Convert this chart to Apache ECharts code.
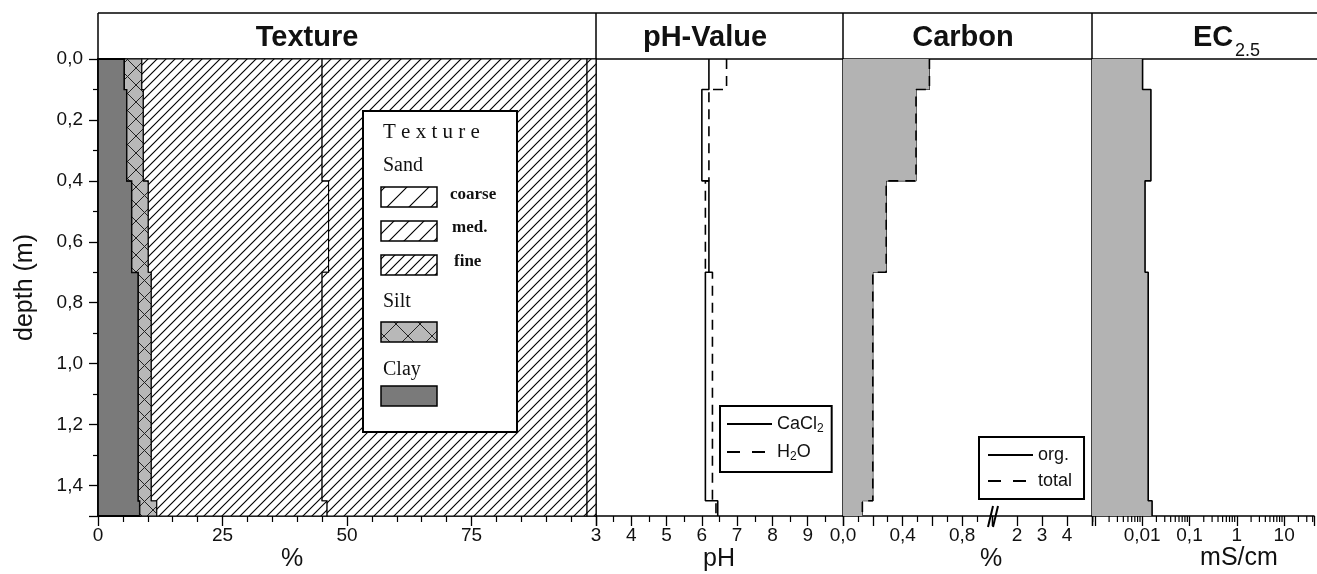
<!DOCTYPE html>
<html>
<head>
<meta charset="utf-8">
<title>Soil profile</title>
<script src="https://cdn.jsdelivr.net/npm/echarts@6.0.0/dist/echarts.min.js"></script>
<style>
html, body { margin: 0; padding: 0; background: #fff; }
#chart { width: 1317px; height: 574px; }
</style>
</head>
<body>
<div id="chart"></div>
<script>
// Depth boundaries of the sampled horizons (m)
const depthBreaks = [0, 0.1, 0.4, 0.7, 1.45, 1.5];

// Texture fractions per horizon (%)
const clay       = [5.3, 5.8, 6.8, 8.1, 8.4];
const silt       = [3.5, 3.3, 3.3, 2.6, 3.4];
const sandFine   = [36.2, 35.9, 36.2, 34.3, 34.2];
const sandMedium = [53.2, 53.2, 51.9, 53.2, 52.2];
const sandCoarse = [1.8, 1.8, 1.8, 1.8, 1.8];

// pH per horizon
const phCaCl2 = [6.2, 6.0, 6.2, 6.1, 6.45];
const phH2O   = [6.7, 6.2, 6.1, 6.3, 6.4];

// Carbon per horizon (%)
const carbonOrg   = [0.58, 0.49, 0.29, 0.2, 0.13];
const carbonTotal = [0.58, 0.49, 0.29, 0.2, 0.13];

// Electrical conductivity EC2.5 per horizon (mS/cm)
const ec = [0.0102, 0.0153, 0.0115, 0.0134, 0.0162];

// Labelled tick values
const depthLabels     = [0, 0.2, 0.4, 0.6, 0.8, 1.0, 1.2, 1.4];
const textureLabels   = [0, 25, 50, 75];
const phLabels        = [3, 4, 5, 6, 7, 8, 9];
const carbonLowLabels = [0, 0.4, 0.8];
const carbonHiLabels  = [2, 3, 4];
const ecLabels        = [0.01, 0.1, 1, 10];
const ecMinorFactors  = [2, 3, 4, 5, 6, 7, 8, 9];
const ecDecades       = [-4, -3, -2, -1, 0, 1];

const BLACK = '#000';
const INK = '#111';
const FONT = "'Liberation Sans', Arial, sans-serif";
const SERIF = "'Liberation Serif', 'Times New Roman', serif";
const FILL_GRAY = '#b3b3b3';
const CLAY_GRAY = '#7a7a7a';

const PLOT_TOP = 59, PLOT_H = 457, HEADER_TOP = 13, RIGHT = 1317;
const panels = [
  { left: 98,   width: 498 },  // texture
  { left: 596,  width: 247 },  // pH
  { left: 843,  width: 149 },  // carbon 0–1 %
  { left: 992,  width: 100 },  // carbon 1–5 %
  { left: 1092, width: 225 }   // EC
];
const EC_MIN = Math.pow(10, -3.06), EC_MAX = Math.pow(10, 1.63);

function hatchPattern(size, opts) {
  const c = document.createElement('canvas');
  c.width = c.height = size;
  const g = c.getContext('2d');
  g.fillStyle = opts.bg || '#fff';
  g.fillRect(0, 0, size, size);
  g.strokeStyle = opts.color || '#000';
  g.lineWidth = opts.width || 1.15;
  g.beginPath();
  for (const o of [-size, 0, size]) { g.moveTo(o - 1, size + 1); g.lineTo(o + size + 1, -1); }
  if (opts.cross) for (const o of [-size, 0, size]) { g.moveTo(o - 1, -1); g.lineTo(o + size + 1, size + 1); }
  g.stroke();
  return { image: c, repeat: 'repeat' };
}

const texLayers = [
  { vals: clay,       fill: CLAY_GRAY },
  { vals: silt,       fill: hatchPattern(17, { bg: '#b8b8b8', cross: true, color: '#222', width: 1 }) },
  { vals: sandFine,   fill: hatchPattern(9,  {}) },
  { vals: sandMedium, fill: hatchPattern(10, {}) },
  { vals: sandCoarse, fill: hatchPattern(10, {}) }
];
// cumulative left/right edges of each texture band
const texEdges = [];
(function () {
  let run = depthBreaks.slice(1).map(() => 0);
  texLayers.forEach(l => {
    const lo = run.slice();
    run = run.map((v, i) => v + l.vals[i]);
    texEdges.push({ lo, hi: run.slice() });
  });
})();

function steps(vals) {
  const pts = [];
  vals.forEach((v, i) => { pts.push([v, depthBreaks[i]]); pts.push([v, depthBreaks[i + 1]]); });
  return pts;
}

function textureRender(params, api) {
  const k = params.dataIndex, e = texEdges[k], n = e.hi.length, pts = [];
  for (let i = 0; i < n; i++) {
    pts.push(api.coord([e.hi[i], depthBreaks[i]]));
    pts.push(api.coord([e.hi[i], depthBreaks[i + 1]]));
  }
  for (let i = n - 1; i >= 0; i--) {
    pts.push(api.coord([e.lo[i], depthBreaks[i + 1]]));
    pts.push(api.coord([e.lo[i], depthBreaks[i]]));
  }
  return { type: 'polygon', shape: { points: pts },
    style: { fill: texLayers[k].fill, stroke: BLACK, lineWidth: k === 0 ? 1.8 : 1.1 } };
}

function stepFillRender(vals, base) {
  return function (params, api) {
    const pts = [api.coord([base, 0])];
    vals.forEach((v, i) => { pts.push(api.coord([v, depthBreaks[i]])); pts.push(api.coord([v, depthBreaks[i + 1]])); });
    pts.push(api.coord([base, depthBreaks[depthBreaks.length - 1]]));
    return { type: 'polygon', shape: { points: pts }, style: { fill: FILL_GRAY } };
  };
}

const near = (a, b) => Math.abs(a - b) <= 1e-6 * Math.max(1, Math.abs(b));
const pick = (list, fmt) => v => { const t = list.find(x => near(v, x)); return t === undefined ? '' : fmt(t); };
const comma = d => t => t.toFixed(d).replace('.', ',');
const plain = t => String(t).replace('.', ',');

const labelStyle = { color: INK, fontFamily: FONT, fontSize: 19, margin: 10 };

function xAxis(i, extra) {
  return Object.assign({
    type: 'value', gridIndex: i, position: 'bottom',
    axisLine: { show: true, onZero: false, lineStyle: { color: BLACK, width: 1.5 } },
    axisTick: { show: true, length: 10, lineStyle: { color: BLACK, width: 1.3 } },
    minorTick: { show: false },
    splitLine: { show: false }, minorSplitLine: { show: false }
  }, extra);
}
function yAxis(i) {
  const main = i === 0;
  return {
    type: 'value', gridIndex: i, min: 0, max: 1.5, inverse: true, interval: 0.2,
    axisLine: { show: i !== 3, onZero: false, lineStyle: { color: BLACK, width: 1.5 } },
    axisTick: { show: main, length: 9, lineStyle: { color: BLACK, width: 1.3 } },
    minorTick: { show: main, splitNumber: 2, length: 5, lineStyle: { color: BLACK, width: 1.2 } },
    axisLabel: Object.assign({ show: main, formatter: pick(depthLabels, comma(1)) }, labelStyle, { margin: 15 }),
    splitLine: { show: false },
    name: main ? 'depth (m)' : '', nameLocation: 'middle', nameRotate: 90, nameGap: 60,
    nameTextStyle: { fontFamily: FONT, fontSize: 25, color: INK }
  };
}

const lineBase = { type: 'line', symbol: 'none', showSymbol: false, animation: false };
const solid = { color: BLACK, width: 1.6 };
const dashed = { color: BLACK, width: 1.6, type: [10, 7] };
const legendDash = { color: BLACK, width: 2, type: [13, 12] };

const legendText = {
  fontFamily: FONT, fontSize: 18, color: INK,
  rich: { sub: { fontFamily: FONT, fontSize: 12, color: INK, padding: [10, 0, 0, 0] } }
};
const legendBase = {
  orient: 'vertical', itemWidth: 45, itemHeight: 14, itemGap: 8,
  borderColor: BLACK, borderWidth: 2, backgroundColor: '#fff', borderRadius: 0,
  selectedMode: false, textStyle: legendText, z: 20,
  itemStyle: { color: 'rgba(0,0,0,0)', borderColor: 'rgba(0,0,0,0)', borderWidth: 0, opacity: 0 }
};

// legend entries inside the texture panel
const legendFills = {
  coarse: hatchPattern(22, {}),
  med: hatchPattern(15, {}),
  fine: hatchPattern(10, {}),
  silt: hatchPattern(24, { bg: '#b8b8b8', cross: true, color: '#222', width: 1 })
};
function txt(text, x, y, font, extra) {
  return { type: 'text', x, y, z: 30, silent: true,
    style: Object.assign({ text, font, fill: INK, align: 'left', verticalAlign: 'middle' }, extra || {}) };
}
function swatch(y, fill) {
  return { type: 'rect', z: 30, silent: true, shape: { x: 381, y, width: 56, height: 20 },
    style: { fill, stroke: BLACK, lineWidth: 1.5 } };
}
const textureLegend = [
  { type: 'rect', z: 29, silent: true, shape: { x: 363, y: 111, width: 154, height: 321 },
    style: { fill: '#fff', stroke: BLACK, lineWidth: 2 } },
  txt('T e x t u r e', 383, 132, '21px ' + SERIF),
  txt('Sand', 383, 166, '20px ' + SERIF),
  swatch(187, legendFills.coarse), txt('coarse', 450, 195, 'bold 17px ' + SERIF),
  swatch(221, legendFills.med),    txt('med.', 452, 228, 'bold 17px ' + SERIF),
  swatch(255, legendFills.fine),   txt('fine', 454, 262, 'bold 17px ' + SERIF),
  txt('Silt', 383, 302, '20px ' + SERIF),
  swatch(322, legendFills.silt),
  txt('Clay', 383, 370, '20px ' + SERIF),
  swatch(386, CLAY_GRAY)
];

const headerGraphics = [
  { type: 'line', shape: { x1: panels[0].left, y1: HEADER_TOP, x2: RIGHT, y2: HEADER_TOP }, style: { stroke: BLACK, lineWidth: 1.5 } },
  { type: 'line', shape: { x1: panels[0].left, y1: PLOT_TOP, x2: RIGHT, y2: PLOT_TOP }, style: { stroke: BLACK, lineWidth: 1.5 } }
].concat([0, 1, 2, 4].map(i => ({ type: 'line',
  shape: { x1: panels[i].left, y1: HEADER_TOP, x2: panels[i].left, y2: PLOT_TOP }, style: { stroke: BLACK, lineWidth: 1.5 } })));

const TITLE_FONT = 'bold 29px ' + FONT;
const titles = [
  txt('Texture', 307, 38, TITLE_FONT, { align: 'center' }),
  txt('pH-Value', 705, 38, TITLE_FONT, { align: 'center' }),
  txt('Carbon', 963, 38, TITLE_FONT, { align: 'center' }),
  txt('EC', 1193, 38, TITLE_FONT),
  txt('2.5', 1235, 51, '18px ' + FONT)
];
const NAME_FONT = '25px ' + FONT;
const axisNames = [
  txt('%', 292, 559, NAME_FONT, { align: 'center' }),
  txt('pH', 719, 559, NAME_FONT, { align: 'center' }),
  txt('%', 991, 559, NAME_FONT, { align: 'center' }),
  txt('mS/cm', 1239, 558, NAME_FONT, { align: 'center' })
];

// minor ticks of the logarithmic EC axis
const ecMinor = [];
ecDecades.forEach(d => ecMinorFactors.forEach(f => {
  const v = f * Math.pow(10, d);
  if (v > EC_MIN && v < EC_MAX) ecMinor.push([v, 1.5]);
}));

const option = {
  animation: false,
  backgroundColor: '#fff',
  grid: panels.map(p => ({ left: p.left, width: p.width, top: PLOT_TOP, height: PLOT_H, containLabel: false })),
  xAxis: [
    xAxis(0, { min: 0, max: 100, interval: 25,
      minorTick: { show: true, splitNumber: 5, length: 6, lineStyle: { color: BLACK, width: 1.2 } },
      axisLabel: Object.assign({ formatter: pick(textureLabels, plain) }, labelStyle) }),
    xAxis(1, { min: 3, max: 10, interval: 1,
      minorTick: { show: true, splitNumber: 2, length: 6, lineStyle: { color: BLACK, width: 1.2 } },
      axisLabel: Object.assign({ formatter: pick(phLabels, plain) }, labelStyle) }),
    xAxis(2, { min: 0, max: 1, interval: 0.2,
      minorTick: { show: true, splitNumber: 2, length: 6, lineStyle: { color: BLACK, width: 1.2 } },
      axisLabel: Object.assign({ formatter: pick(carbonLowLabels, comma(1)) }, labelStyle) }),
    xAxis(3, { min: 1, max: 5, interval: 1,
      axisLabel: Object.assign({ formatter: pick(carbonHiLabels, plain) }, labelStyle) }),
    xAxis(4, { type: 'log', logBase: 10, min: EC_MIN, max: EC_MAX,
      axisLabel: Object.assign({ formatter: pick(ecLabels, plain) }, labelStyle) })
  ],
  yAxis: panels.map((p, i) => yAxis(i)),
  legend: [
    Object.assign({}, legendBase, { left: 720, top: 406, padding: [9, 8, 9, 6],
      data: ['CaCl2', { name: 'H2O', lineStyle: legendDash }],
      formatter: n => n === 'CaCl2' ? 'CaCl{sub|2}' : 'H{sub|2}O' }),
    Object.assign({}, legendBase, { left: 979, top: 437, padding: [9, 12, 9, 8],
      data: ['org.', { name: 'total', lineStyle: legendDash }] })
  ],
  graphic: { elements: headerGraphics.concat(titles, axisNames, textureLegend) },
  series: [
    { type: 'custom', name: 'texture', xAxisIndex: 0, yAxisIndex: 0, silent: true, z: 2,
      data: texLayers.map((l, i) => [i, 0]), renderItem: textureRender },
    Object.assign({}, lineBase, { name: 'CaCl2', xAxisIndex: 1, yAxisIndex: 1, z: 3,
      data: steps(phCaCl2), lineStyle: solid, itemStyle: { color: BLACK } }),
    Object.assign({}, lineBase, { name: 'H2O', xAxisIndex: 1, yAxisIndex: 1, z: 3,
      data: steps(phH2O), lineStyle: dashed, itemStyle: { color: BLACK } }),
    Object.assign({}, lineBase, { name: 'org.', xAxisIndex: 2, yAxisIndex: 2, z: 1,
      data: steps(carbonOrg), lineStyle: { color: BLACK, width: 1.2 }, itemStyle: { color: BLACK } }),
    { type: 'custom', name: 'carbon fill', xAxisIndex: 2, yAxisIndex: 2, silent: true, z: 2,
      data: [[0, 0]], renderItem: stepFillRender(carbonOrg, 0) },
    Object.assign({}, lineBase, { name: 'total', xAxisIndex: 2, yAxisIndex: 2, z: 3,
      data: steps(carbonTotal), lineStyle: dashed, itemStyle: { color: BLACK } }),
    { type: 'custom', name: 'EC fill', xAxisIndex: 4, yAxisIndex: 4, silent: true, z: 2,
      data: [[EC_MIN, 0]], renderItem: stepFillRender(ec, EC_MIN) },
    Object.assign({}, lineBase, { name: 'EC2.5', xAxisIndex: 4, yAxisIndex: 4, z: 3,
      data: steps(ec), lineStyle: solid, itemStyle: { color: BLACK } }),
    { type: 'custom', name: 'EC minor ticks', xAxisIndex: 4, yAxisIndex: 4, silent: true, z: 3,
      data: ecMinor,
      renderItem: (params, api) => {
        const p = api.coord([api.value(0), api.value(1)]);
        return { type: 'line', shape: { x1: p[0], y1: p[1], x2: p[0], y2: p[1] + 6 },
          style: { stroke: BLACK, lineWidth: 1.2 } };
      } },
    { type: 'custom', name: 'axis break', xAxisIndex: 3, yAxisIndex: 3, silent: true, z: 5,
      data: [[1, 1.5]],
      renderItem: (params, api) => {
        const p = api.coord([api.value(0), api.value(1)]);
        return { type: 'group', children: [
          { type: 'line', shape: { x1: p[0] - 4, y1: p[1] + 11, x2: p[0] + 1, y2: p[1] - 10 }, style: { stroke: BLACK, lineWidth: 2 } },
          { type: 'line', shape: { x1: p[0] + 1, y1: p[1] + 11, x2: p[0] + 6, y2: p[1] - 10 }, style: { stroke: BLACK, lineWidth: 2 } }
        ] };
      } }
  ]
};

const chart = echarts.init(document.getElementById('chart'), null, { renderer: 'canvas' });
chart.setOption(option);
</script>
</body>
</html>
